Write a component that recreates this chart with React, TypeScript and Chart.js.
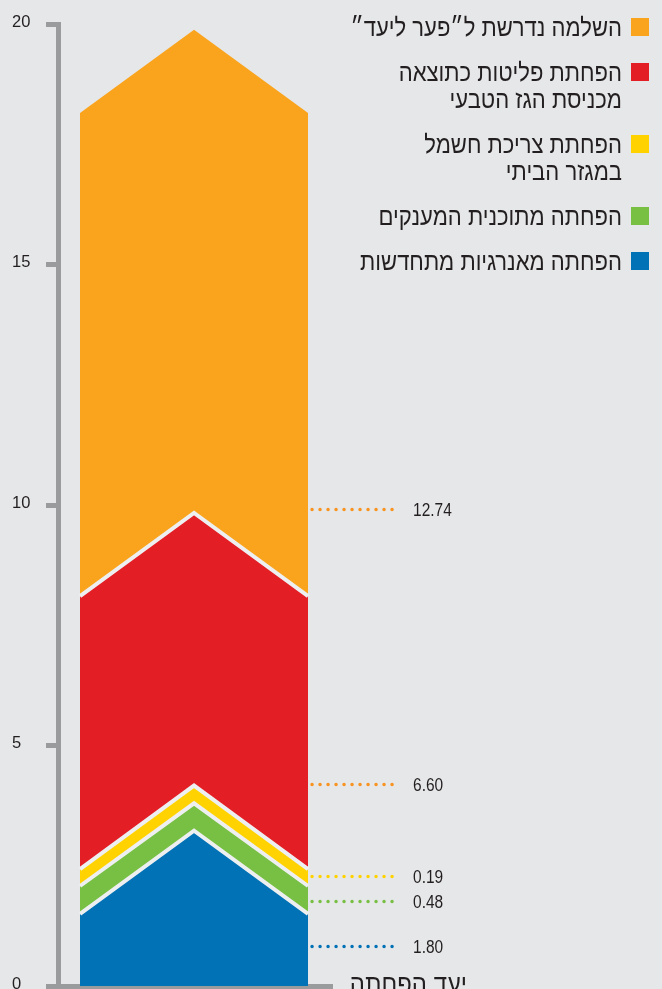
import { useEffect, useRef } from 'react';
import { Chart, registerables } from 'chart.js';

Chart.register(...registerables);

// ---- data ----
const positions = [0, 1, 2]; // left edge, centre peak, right edge of the arrow shape
const renewables = [1.5, 3.23, 1.5];
const grants = [0.58, 0.57, 0.58];
const household = [0.35, 0.37, 0.35];
const naturalGas = [5.68, 5.67, 5.68];
const remainingGap = [10.05, 10.05, 10.05];

const seriesLabels = [
  ['הפחתה מאנרגיות מתחדשות'],
  ['הפחתה מתוכנית המענקים'],
  ['הפחתת צריכת חשמל', 'במגזר הביתי'],
  ['הפחתת פליטות כתוצאה', 'מכניסת הגז הטבעי'],
  ['השלמה נדרשת ל״פער ליעד״'],
];
const calloutTexts = ['1.80', '0.48', '0.19', '6.60', '12.74'];
const yTickMin = 0;
const yTickMax = 20;
const yTickStep = 5;
const xAxisTitle = 'יעד הפחתה';

// ---- styling / layout ----
const BG = '#e6e7e9';
const AXIS = '#9a9b9d';
const TEXT = '#231f20';
const SEP = '#eeeff0';
const colors = ['#0072b5', '#77c043', '#ffd200', '#e31e25', '#faa41e'];
const calloutColors = ['#0072b5', '#77c043', '#ffd200', '#f7931e', '#f7931e'];
const calloutAnchors = [0.83, 1.77, 2.29, 4.2, 9.92]; // axis units where callout rows sit
const FONT = '"Liberation Sans", Arial, sans-serif';

const series = [renewables, grants, household, naturalGas, remainingGap];

function drawNarrow(
  ctx: CanvasRenderingContext2D,
  text: string,
  x: number,
  y: number,
  sx: number,
) {
  ctx.save();
  ctx.translate(x, y);
  ctx.scale(sx, 1);
  ctx.fillText(text, 0, 0);
  ctx.restore();
}

const overlayPlugin = {
  id: 'overlay',
  afterDraw(chart: any) {
    const ctx = chart.ctx as CanvasRenderingContext2D;
    const xs = chart.scales.x;
    const ys = chart.scales.y;
    const rightEdge = xs.getPixelForValue(positions[positions.length - 1]);

    // callouts
    ctx.save();
    calloutTexts.forEach((t, i) => {
      const y = Math.round(ys.getPixelForValue(calloutAnchors[i])) + 0.5;
      ctx.strokeStyle = calloutColors[i];
      ctx.lineWidth = 3.5;
      ctx.lineCap = 'round';
      ctx.setLineDash([0, 8]);
      ctx.beginPath();
      ctx.moveTo(rightEdge + 4, y);
      ctx.lineTo(rightEdge + 92, y);
      ctx.stroke();
      ctx.setLineDash([]);
      ctx.fillStyle = TEXT;
      ctx.font = `18px ${FONT}`;
      ctx.textAlign = 'left';
      ctx.textBaseline = 'middle';
      drawNarrow(ctx, t, rightEdge + 105, y + 1.5, 0.86);
    });
    ctx.restore();

    // legend (top to bottom: reverse of stacking order)
    ctx.save();
    ctx.direction = 'rtl';
    ctx.textAlign = 'right';
    ctx.textBaseline = 'alphabetic';
    ctx.font = `25.5px ${FONT}`;
    let top = 18;
    for (let i = series.length - 1; i >= 0; i--) {
      ctx.fillStyle = colors[i];
      ctx.fillRect(631, top, 18, 18);
      ctx.fillStyle = TEXT;
      seriesLabels[i].forEach((line, j) => {
        drawNarrow(ctx, line, 622, top + 18 + j * 27, 0.865);
      });
      top += seriesLabels[i].length * 27 + 18;
    }
    // x axis title
    ctx.font = `26px ${FONT}`;
    drawNarrow(ctx, xAxisTitle, rightEdge + 159, 993, 0.92);
    ctx.restore();
  },
};

export default function App() {
  const ref = useRef<HTMLCanvasElement>(null);
  useEffect(() => {
    const chart = new Chart(ref.current!, {
      type: 'line',
      data: {
        datasets: series.map((vals, i) => ({
          label: seriesLabels[i].join(' '),
          data: vals.map((v, k) => ({ x: positions[k], y: v })),
          backgroundColor: colors[i],
          borderColor: SEP,
          borderWidth: i === series.length - 1 ? 0 : 4,
          pointRadius: 0,
          tension: 0,
          fill: i === 0 ? 'origin' : '-1',
        })),
      },
      options: {
        responsive: false,
        animation: false,
        events: [],
        layout: { padding: { left: 12, right: 330, top: 24.5, bottom: 3 } },
        plugins: { legend: { display: false }, tooltip: { enabled: false } },
        scales: {
          x: {
            type: 'linear',
            min: -0.193,
            max: 2.21,
            grid: { display: false },
            border: { display: true, color: AXIS, width: 5 },
            ticks: { display: false },
            afterFit: (s: any) => {
              s.height = 0;
              s.paddingLeft = 0;
              s.paddingRight = 0;
              s.paddingTop = 0;
              s.paddingBottom = 0;
            },
          },
          y: {
            type: 'linear',
            stacked: true,
            min: yTickMin,
            max: yTickMax,
            grid: {
              drawOnChartArea: false,
              drawTicks: true,
              tickLength: 12,
              tickWidth: 5,
              tickColor: AXIS,
            },
            border: { display: true, color: AXIS, width: 5 },
            ticks: {
              stepSize: yTickStep,
              crossAlign: 'far',
              labelOffset: -2,
              color: TEXT,
              font: { family: FONT, size: 16.5 },
            },
            afterFit: (s: any) => {
              s.width = 46;
              s.paddingTop = 0;
              s.paddingBottom = 0;
              s.paddingLeft = 0;
              s.paddingRight = 0;
            },
          },
        },
      } as any,
      plugins: [overlayPlugin],
    });
    return () => chart.destroy();
  }, []);
  return (
    <div style={{ position: 'absolute', left: 0, top: 0, width: 662, height: 989, background: BG, overflow: 'hidden' }}>
      <canvas ref={ref} width={662} height={989} style={{ display: 'block', width: 662, height: 989 }} />
    </div>
  );
}
